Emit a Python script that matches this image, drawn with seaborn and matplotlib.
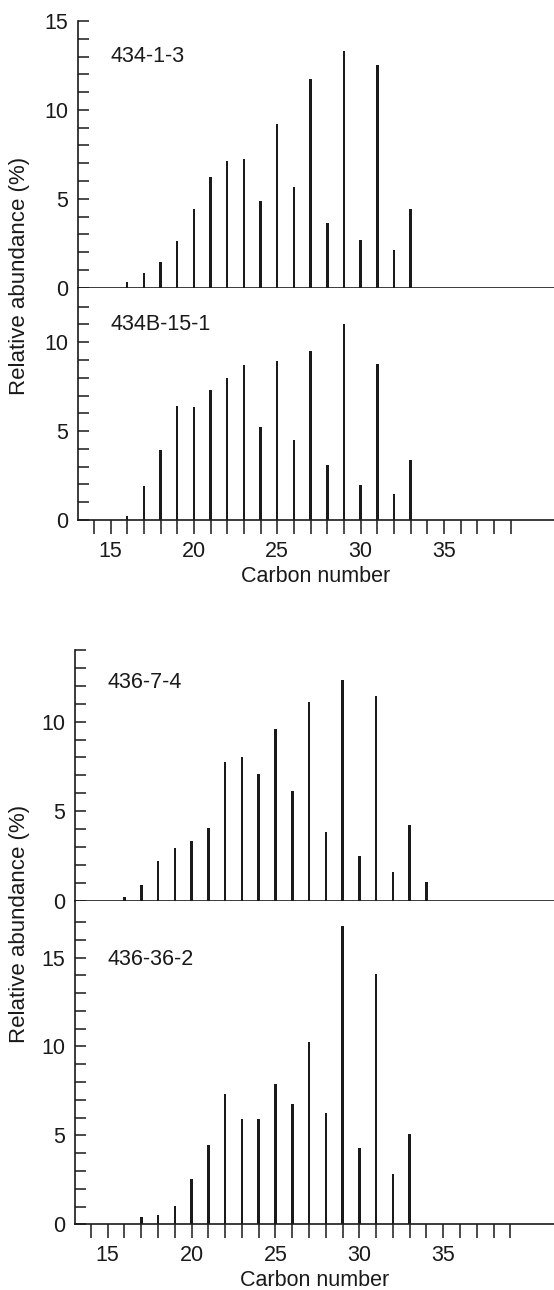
import matplotlib.pyplot as plt
import seaborn as sns

# n-alkane distributions, relative abundance (%) by carbon number
carbon_434_1_3 = list(range(16, 34))
abund_434_1_3 = [0.3, 0.8, 1.45, 2.65, 4.45, 6.2, 7.1, 7.25, 4.85,
                 9.2, 5.65, 11.75, 3.65, 13.3, 2.7, 12.5, 2.1, 4.45]

carbon_434b_15_1 = list(range(16, 34))
abund_434b_15_1 = [0.2, 1.9, 3.95, 6.4, 6.35, 7.3, 8.0, 8.7, 5.25,
                   8.95, 4.5, 9.5, 3.1, 11.05, 1.95, 8.8, 1.45, 3.4]

carbon_436_7_4 = list(range(16, 35))
abund_436_7_4 = [0.2, 0.9, 2.2, 2.95, 3.35, 4.05, 7.75, 8.05, 7.05,
                 9.6, 6.1, 11.1, 3.85, 12.35, 2.5, 11.45, 1.6, 4.2, 1.05]

carbon_436_36_2 = list(range(17, 34))
abund_436_36_2 = [0.4, 0.5, 1.05, 2.55, 4.45, 7.35, 5.95, 5.95, 7.9,
                  6.75, 10.25, 6.25, 16.75, 4.3, 14.1, 2.85, 5.1]

x_major = [15, 20, 25, 30, 35]
x_minor = list(range(14, 40))

sns.set_style("ticks")
plt.rcParams['font.family'] = ['Liberation Sans', 'DejaVu Sans']
plt.rcParams['font.size'] = 15.5
ink = '#1a1a1a'

W, H = 554, 1290
fig = plt.figure(figsize=(W / 100, H / 100), dpi=100)


def panel(left, top_px, bottom_px, carbons, values, ymax, last_tick, name, name_y, with_x):
    rect = [left / W, 1 - bottom_px / H, 1 - left / W, (bottom_px - top_px) / H]
    ax = fig.add_axes(rect)
    sns.barplot(x=carbons, y=values, native_scale=True, width=0.15,
                color=ink, saturation=1, linewidth=0, ax=ax)
    ax.set_xlim(13.05, 41.6)
    ax.set_ylim(0, ymax)
    ax.set_xlabel('')
    ax.set_ylabel('')
    for s in ['top', 'right']:
        ax.spines[s].set_visible(False)
    for s in ['left', 'bottom']:
        ax.spines[s].set_linewidth(1.2)
        ax.spines[s].set_color(ink)
    yt = list(range(0, last_tick + 1))
    ax.set_yticks(yt)
    ax.set_yticklabels([str(v) if v % 5 == 0 else '' for v in yt])
    ax.tick_params(axis='y', direction='in', length=8, width=1.1, pad=7,
                   colors=ink, labelsize=15.5)
    if with_x:
        ax.set_xticks(x_major)
        ax.set_xticks(x_minor, minor=True)
        ax.tick_params(axis='x', which='both', direction='out', length=10,
                       width=1.1, pad=5, colors=ink, labelsize=15.5)
        ax.set_xlabel('Carbon number', fontsize=15.5, color=ink, labelpad=3)
    else:
        ax.set_xticks([])
    ax.text(15.0, name_y, name, fontsize=15.5, color=ink, va='center', ha='left')
    return ax


panel(78, 21, 287.7, carbon_434_1_3, abund_434_1_3, 15, 15, '434-1-3', 13.0, False)
panel(78, 287.7, 520, carbon_434b_15_1, abund_434b_15_1, 13.07, 12, '434B-15-1', 11.0, True)
panel(75, 650, 900.7, carbon_436_7_4, abund_436_7_4, 14, 14, '436-7-4', 12.2, False)
panel(75, 900.7, 1224.3, carbon_436_36_2, abund_436_36_2, 18.2, 17, '436-36-2', 14.9, True)

fig.text(20 / W, 1 - 276 / H, 'Relative abundance (%)', rotation=90,
         ha='center', va='center', fontsize=16, color=ink)
fig.text(20 / W, 1 - 924 / H, 'Relative abundance (%)', rotation=90,
         ha='center', va='center', fontsize=16, color=ink)

fig.savefig('out.png', dpi=100)
